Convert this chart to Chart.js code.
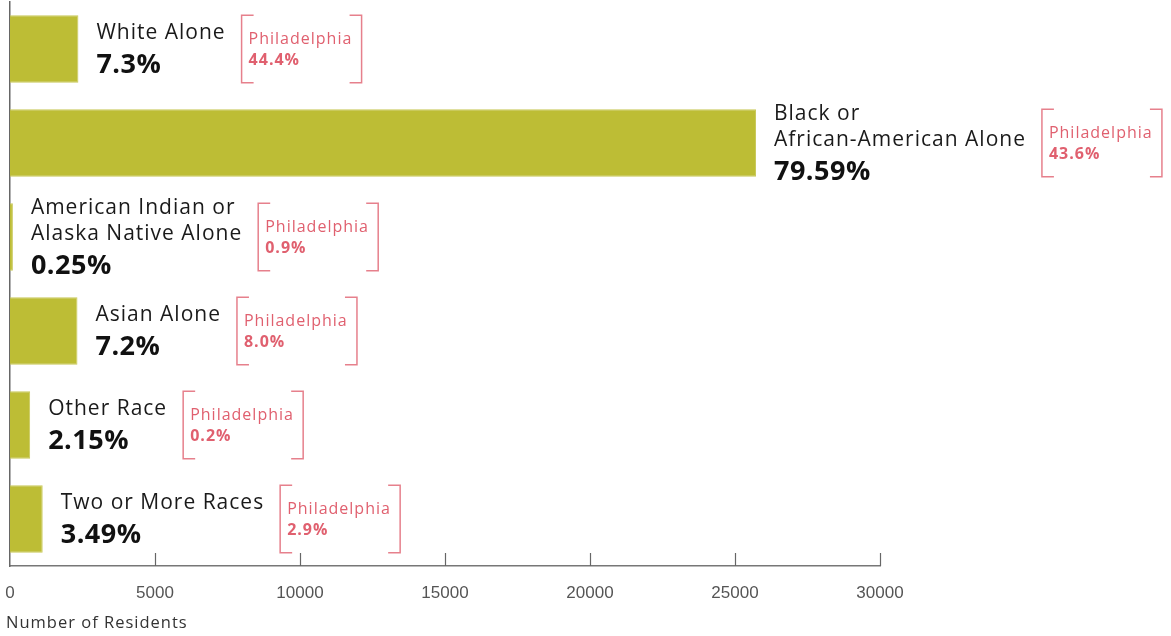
<!DOCTYPE html>
<html>
<head>
<meta charset="utf-8">
<script src="https://cdn.jsdelivr.net/npm/chart.js@4.4.1/dist/chart.umd.min.js"></script>
<style>
  html, body { margin: 0; padding: 0; background: #fff; }
  #wrap { width: 1171px; height: 636px; position: relative; }
</style>
</head>
<body>
<div id="wrap"><canvas id="raceChart"></canvas></div>
<script>
// Données
const categories = [
    ['White Alone'],
    ['Black or', 'African-American Alone'],
    ['American Indian or', 'Alaska Native Alone'],
    ['Asian Alone'],
    ['Other Race'],
    ['Two or More Races']
];
const residents = [2359, 25724, 100, 2327, 695, 1128];
const shares = ['7.3%', '79.59%', '0.25%', '7.2%', '2.15%', '3.49%'];
const phillyShares = ['44.4%', '43.6%', '0.9%', '8.0%', '0.2%', '2.9%'];
const tickStep = 5000;
const xMax = 30000;
const axisTitle = 'Number of Residents';

const BAR = '#bdbd35';
const PINK = '#e0606f';
const FONT = '"Open Sans", sans-serif';

// libellés à droite des barres + encadré Philadelphia
const labelPlugin = {
    id: 'barLabels',
    afterDatasetsDraw(chart) {
        const ctx = chart.ctx;
        const meta = chart.getDatasetMeta(0);
        ctx.save();
        meta.data.forEach((bar, i) => {
            const lines = categories[i];
            const x = bar.x + 18;
            const nameGap = 26, pctGap = 32;
            const blockH = (lines.length - 1) * nameGap + pctGap;
            let y = bar.y - blockH / 2;

            ctx.textBaseline = 'middle';
            ctx.textAlign = 'left';
            ctx.fillStyle = '#1a1a1a';
            ctx.letterSpacing = '1px';
            ctx.font = '400 21px ' + FONT;
            let maxW = 0;
            lines.forEach((line, k) => {
                ctx.fillText(line, x, y + k * nameGap);
                maxW = Math.max(maxW, ctx.measureText(line).width);
            });
            ctx.letterSpacing = '0.5px';
            ctx.font = '700 27px ' + FONT;
            ctx.fillStyle = '#111';
            const py = y + (lines.length - 1) * nameGap + pctGap;
            ctx.fillText(shares[i], x, py);
            maxW = Math.max(maxW, ctx.measureText(shares[i]).width);

            // encadré
            const top = bar.y - bar.height / 2;
            const bottom = bar.y + bar.height / 2;
            const left = x + maxW + 16;
            const w = 120, arm = 12;
            ctx.strokeStyle = 'rgba(224,96,111,0.8)';
            ctx.lineWidth = 1.5;
            ctx.beginPath();
            ctx.moveTo(left + arm, top);
            ctx.lineTo(left, top);
            ctx.lineTo(left, bottom);
            ctx.lineTo(left + arm, bottom);
            ctx.moveTo(left + w - arm, top);
            ctx.lineTo(left + w, top);
            ctx.lineTo(left + w, bottom);
            ctx.lineTo(left + w - arm, bottom);
            ctx.stroke();

            ctx.fillStyle = PINK;
            ctx.letterSpacing = '1px';
            ctx.font = '400 16px ' + FONT;
            ctx.fillText('Philadelphia', left + 7, bar.y - 10);
            ctx.font = '700 16px ' + FONT;
            ctx.fillText(phillyShares[i], left + 7, bar.y + 11);
        });
        ctx.restore();
    },
    afterDraw(chart) {
        const ctx = chart.ctx;
        const xs = chart.scales.x;
        const bottom = chart.chartArea.bottom;
        ctx.save();
        // petits traits de graduation vers le haut
        ctx.strokeStyle = '#666';
        ctx.lineWidth = 1.2;
        xs.ticks.forEach(t => {
            if (t.value === 0) return;
            const px = Math.round(xs.getPixelForValue(t.value)) + 0.5;
            ctx.beginPath();
            ctx.moveTo(px, bottom);
            ctx.lineTo(px, bottom - 13);
            ctx.stroke();
        });
        // titre de l'axe
        ctx.fillStyle = '#333';
        ctx.letterSpacing = '1px';
        ctx.font = '400 16.5px ' + FONT;
        ctx.textBaseline = 'middle';
        ctx.textAlign = 'left';
        ctx.fillText(axisTitle, 6, 623);
        ctx.restore();
    }
};

new Chart(document.getElementById('raceChart'), {
    type: 'bar',
    data: {
        labels: categories,
        datasets: [{
            data: residents,
            backgroundColor: BAR,
            borderColor: '#c9c95a',
            borderWidth: 1,
            barPercentage: 0.72,
            categoryPercentage: 1
        }]
    },
    options: {
        indexAxis: 'y',
        responsive: true,
        maintainAspectRatio: false,
        animation: false,
        layout: { padding: { left: 10, right: 291, top: 2, bottom: 36 } },
        plugins: {
            legend: { display: false },
            tooltip: { enabled: false }
        },
        scales: {
            x: {
                min: 0,
                max: xMax,
                grid: { display: false, drawTicks: false },
                border: { display: true, color: '#777', width: 1.5 },
                ticks: {
                    stepSize: tickStep,
                    maxRotation: 0,
                    padding: 17,
                    color: '#555',
                    font: { family: '"Liberation Sans", sans-serif', size: 17 },
                    callback: v => String(v)
                },
                afterFit: s => {
                    s.height = 34;
                    s.paddingLeft = 0;
                    s.paddingRight = 0;
                }
            },
            y: {
                grid: { display: false, drawTicks: false },
                border: { display: true, color: '#666', width: 1.5 },
                ticks: { display: false },
                afterFit: s => { s.width = 0; }
            }
        }
    },
    plugins: [labelPlugin]
});
</script>
</body>
</html>
